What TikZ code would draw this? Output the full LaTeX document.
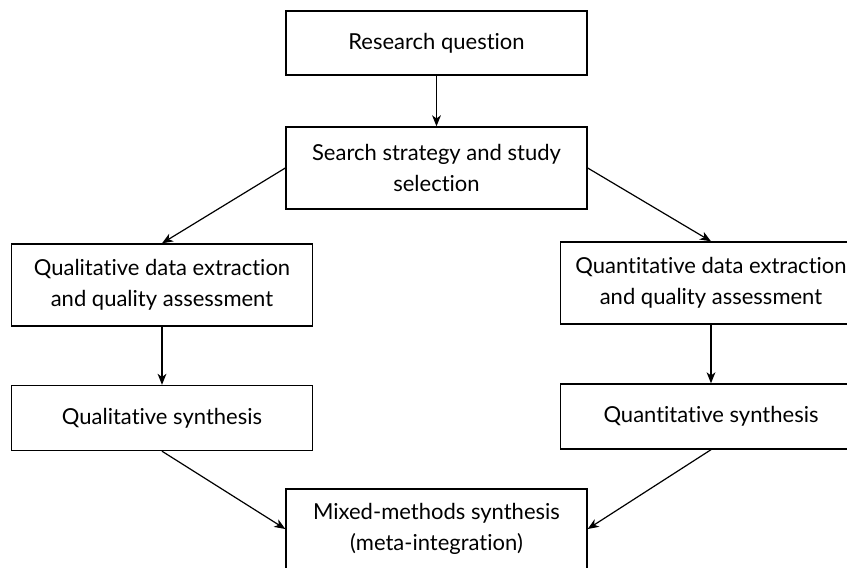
\documentclass[tikz,border=0pt]{standalone}
\usepackage{fontspec}
\setmainfont{Lato}[Ligatures=NoCommon]
\usetikzlibrary{arrows.meta}
\begin{document}
\begin{tikzpicture}[x=0.5pt,y=-0.5pt,
    box/.style={draw,line width=0.7pt,align=center,minimum width=150.5pt,font=\fontsize{11}{15.5}\selectfont},
    arrow/.style={-{Stealth[length=5.5pt,width=4.4pt,inset=1.6pt]},line width=0.6pt}]
    \useasboundingbox (0,0) rectangle (847,568);
    \node[box,minimum height=32pt] (question) at (436.5,43) {Research question};
    \node[box,minimum height=41pt] (search) at (436.5,168) {Search strategy and study\\selection};
    \node[box,minimum height=41pt] (qualext) at (162,285) {Qualitative data extraction\\and quality assessment};
    \node[box,minimum height=41pt] (quantext) at (711,283) {Quantitative data extraction\\and quality assessment};
    \node[box,minimum height=32.5pt] (qualsyn) at (162,418) {Qualitative synthesis};
    \node[box,minimum height=32.5pt] (quantsyn) at (711,416.5) {Quantitative synthesis};
    \node[box,minimum height=40pt] (mixed) at (436.5,529) {Mixed-methods synthesis\\(meta-integration)};
    \draw[arrow] (question) -- (search);
    \draw[arrow] (search.west) -- (qualext.north);
    \draw[arrow] (search.east) -- (quantext.north);
    \draw[arrow] (qualext) -- (qualsyn);
    \draw[arrow] (quantext) -- (quantsyn);
    \draw[arrow] (qualsyn.south) -- (mixed.west);
    \draw[arrow] (quantsyn.south) -- (mixed.east);
\end{tikzpicture}
\end{document}
